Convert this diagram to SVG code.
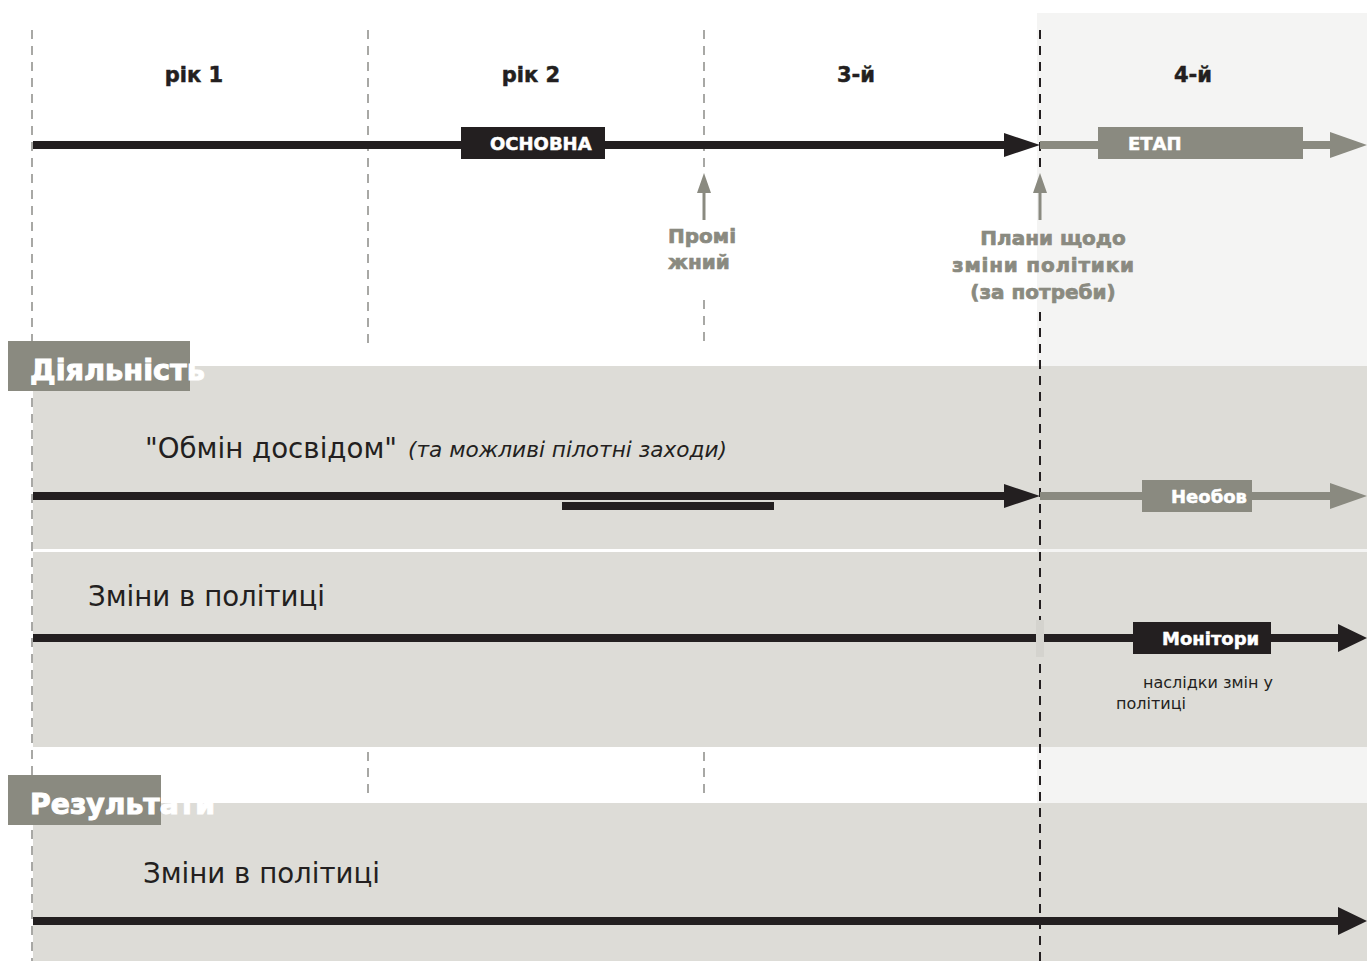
<svg xmlns="http://www.w3.org/2000/svg" width="1367" height="961" viewBox="0 0 1367 961">
<defs>
<style>
.band{fill:#dddcd7}
.hv{font-family:"DejaVu Sans","Liberation Sans",sans-serif;font-weight:bold;fill:#fff;stroke:#fff;stroke-width:1}
.yr{font-family:"DejaVu Sans","Liberation Sans",sans-serif;font-weight:bold;font-size:21px;fill:#231f20;stroke:#231f20;stroke-width:0.5;text-anchor:middle}
.lab{font-family:"DejaVu Sans","Liberation Sans",sans-serif;font-weight:bold;font-size:18px;fill:#fff;stroke:#fff;stroke-width:0.5}
.glab{font-family:"DejaVu Sans","Liberation Sans",sans-serif;font-weight:bold;font-size:20px;fill:#8a8a80;stroke:#8a8a80;stroke-width:0.7}
.big{font-family:"DejaVu Sans","Liberation Sans",sans-serif;font-size:29px;fill:#231f20}
.sm{font-family:"DejaVu Sans","Liberation Sans",sans-serif;font-size:16px;fill:#231f20}
.dash{stroke:#8c8c88;stroke-width:1.5;stroke-dasharray:9,7;fill:none}
.dashk{stroke:#231f20;stroke-width:2;stroke-dasharray:9,7;fill:none}
.kline{stroke:#231f20;stroke-width:8}
.gline{stroke:#8a8a80;stroke-width:8}
</style>
</defs>
<rect width="1367" height="961" fill="#fff"/>
<rect x="1037" y="13" width="330" height="948" fill="#f4f4f3"/>
<g id="bands">
<rect class="band" x="33" y="366" width="1334" height="183"/>
<rect class="band" x="33" y="552" width="1334" height="195"/>
<rect class="band" x="33" y="803" width="1334" height="158"/>
</g>
<g id="gridlines">
<line class="dash" x1="32" y1="30" x2="32" y2="961"/>
<line class="dash" x1="368" y1="30" x2="368" y2="348"/>
<line class="dash" x1="368" y1="752" x2="368" y2="797"/>
<line class="dash" x1="704" y1="30" x2="704" y2="168"/>
<line class="dash" x1="704" y1="300" x2="704" y2="348"/>
<line class="dash" x1="704" y1="752" x2="704" y2="797"/>
<line class="dashk" x1="1040" y1="30" x2="1040" y2="168"/>
<line class="dashk" x1="1040" y1="312" x2="1040" y2="961"/>
</g>
<g id="years">
<text class="yr" x="194" y="82">рік 1</text>
<text class="yr" x="531" y="82">рік 2</text>
<text class="yr" x="856" y="82">3-й</text>
<text class="yr" x="1193" y="82">4-й</text>
</g>
<g id="connectors">
<line class="kline" x1="33" y1="145" x2="1008" y2="145"/>
<polygon points="1004,133 1040,145 1004,157" fill="#231f20"/>
<line class="gline" x1="1040" y1="145" x2="1334" y2="145"/>
<polygon points="1330,132 1367,145 1330,158" fill="#8a8a80"/>
<line x1="704" y1="220" x2="704" y2="190" stroke="#8a8a80" stroke-width="3"/>
<polygon points="697,193 704,173 711,193" fill="#8a8a80"/>
<line x1="1040" y1="220" x2="1040" y2="190" stroke="#8a8a80" stroke-width="3"/>
<polygon points="1033,193 1040,173 1047,193" fill="#8a8a80"/>
<line class="kline" x1="33" y1="496" x2="1008" y2="496"/>
<polygon points="1004,484 1040,496 1004,508" fill="#231f20"/>
<line class="gline" x1="1040" y1="496" x2="1334" y2="496"/>
<polygon points="1330,483 1367,496 1330,509" fill="#8a8a80"/>
<line class="kline" x1="33" y1="638" x2="1342" y2="638"/>
<polygon points="1338,624 1367,638 1338,652" fill="#231f20"/>
<rect x="1036" y="620" width="8" height="37" fill="#d4d3ce"/>
<line class="kline" x1="33" y1="921" x2="1342" y2="921"/>
<polygon points="1338,907 1367,921 1338,935" fill="#231f20"/>
</g>
<g id="node-osnovna">
<rect x="461" y="127" width="144" height="32" fill="#231f20"/>
<text class="lab" x="490" y="150">ОСНОВНА</text>
</g>
<g id="node-etap">
<rect x="1098" y="127" width="205" height="32" fill="#8a8a80"/>
<text class="lab" x="1128" y="150">ЕТАП</text>
</g>
<g id="node-promizhnyi">
<text class="glab" x="668" y="243">Промі</text>
<text class="glab" x="668" y="269">жний</text>
</g>
<g id="node-plany">
<text class="glab" x="1053" y="245" text-anchor="middle">Плани щодо</text>
<text class="glab" x="1043" y="272" text-anchor="middle" textLength="182" lengthAdjust="spacing">зміни політики</text>
<text class="glab" x="1043" y="299" text-anchor="middle">(за потреби)</text>
</g>
<g id="node-diialnist">
<rect x="8" y="341" width="182" height="50" fill="#8a8a80"/>
<text class="hv" x="30" y="380" font-size="28" textLength="175" lengthAdjust="spacingAndGlyphs">Діяльність</text>
</g>
<g id="node-obmin">
<text class="big" x="145" y="458" textLength="252" lengthAdjust="spacingAndGlyphs">"Обмін досвідом"</text>
<text x="408" y="457" font-family="'DejaVu Sans','Liberation Sans',sans-serif" font-style="italic" font-size="21" fill="#231f20" textLength="319" lengthAdjust="spacingAndGlyphs">(та можливі пілотні заходи)</text>
<rect x="562" y="502" width="212" height="8" fill="#231f20"/>
</g>
<g id="node-neobov">
<rect x="1142" y="480" width="110" height="32" fill="#8a8a80"/>
<text class="lab" x="1171" y="503">Необов</text>
</g>
<g id="node-zminy1">
<text class="big" x="88" y="606" textLength="237" lengthAdjust="spacingAndGlyphs">Зміни в політиці</text>
</g>
<g id="node-monitory">
<rect x="1133" y="622" width="138" height="32" fill="#231f20"/>
<text class="lab" x="1162" y="645">Монітори</text>
<text class="sm" x="1143" y="688">наслідки змін у</text>
<text class="sm" x="1116" y="709">політиці</text>
</g>
<g id="node-rezultaty">
<rect x="8" y="775" width="153" height="50" fill="#8a8a80"/>
<text class="hv" x="30" y="814" font-size="28" textLength="185" lengthAdjust="spacingAndGlyphs">Результати</text>
</g>
<g id="node-zminy2">
<text class="big" x="143" y="883" textLength="237" lengthAdjust="spacingAndGlyphs">Зміни в політиці</text>
</g>
</svg>
